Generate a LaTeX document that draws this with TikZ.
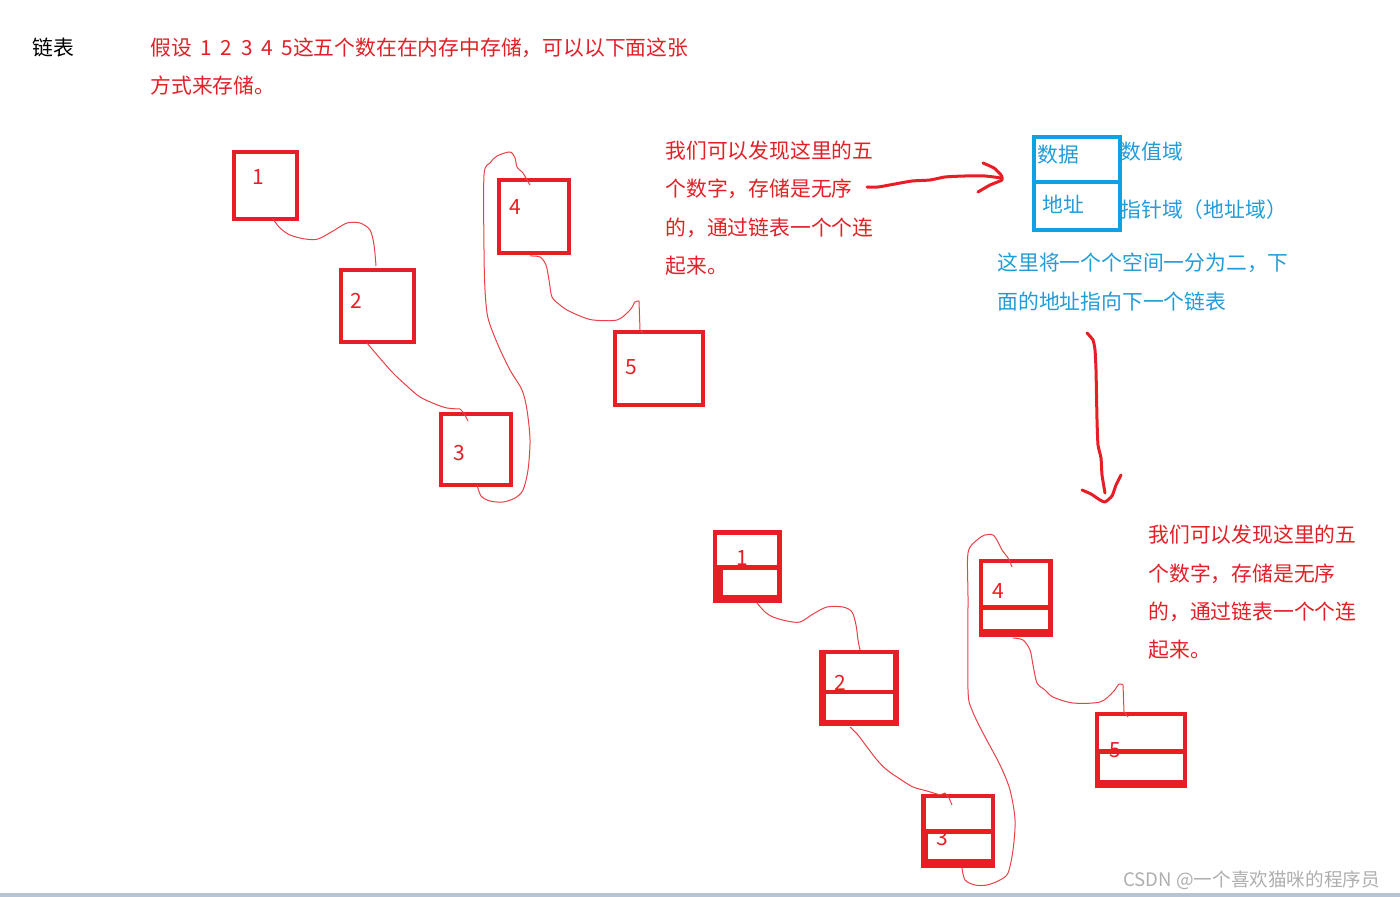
\documentclass[tikz,border=0pt]{standalone}
\usepackage{fontspec}
\setmainfont{Noto Sans CJK SC}
\usetikzlibrary{calc}
\definecolor{ired}{RGB}{232,30,38}
\definecolor{tred}{RGB}{226,32,40}
\definecolor{bbox}{RGB}{16,160,228}
\definecolor{btxt}{RGB}{34,156,216}
\definecolor{wmark}{RGB}{175,175,175}
\definecolor{barc}{RGB}{182,196,214}
\tikzset{
  txt/.style={anchor=base west, inner sep=0pt, font=\fontsize{10.4}{12}\selectfont},
  redtxt/.style={txt, text=tred},
  bluetxt/.style={txt, text=btxt},
  digit/.style={inner sep=0pt, text=ired, font=\fontsize{10.5}{12}\selectfont},
  tbox/.style={draw=ired, line width=2pt, inner sep=0pt},
  outerbox/.style={fill=ired, inner sep=0pt, anchor=north west},
  cell/.style={fill=white, inner sep=0pt, anchor=north west},
  wire/.style={draw=ired!85!white, line width=0.5pt, line join=round},
  thickarrow/.style={draw=ired, line width=1.5pt, line cap=round, line join=round},
}
\begin{document}
\begin{tikzpicture}[x=0.5pt, y=-0.5pt]
\useasboundingbox (0,0) rectangle (1400,897);
\fill[white] (0,0) rectangle (1400,897);
\fill[barc] (0,893) rectangle (1400,897);

% ---- texts ----
\node[txt] (title) at (32,56) {链表};
\node[redtxt] (intro1) at (150,56) {假设\hspace{2pt} 1\hspace{2pt} 2\hspace{2pt} 3\hspace{2pt} 4\hspace{2pt} 5这五个数在在内存中存储，可以以下面这张};
\node[redtxt] (intro2) at (150,94) {方式来存储。};

\node[redtxt] (m1) at (665,159) {我们可以发现这里的五};
\node[redtxt] (m2) at (665,197) {个数字，存储是无序};
\node[redtxt] (m3) at (665,236) {的，通过链表一个个连};
\node[redtxt] (m4) at (665,274) {起来。};

\node[redtxt] (r1) at (1148,542) {我们可以发现这里的五};
\node[redtxt] (r2) at (1148,581) {个数字，存储是无序};
\node[redtxt] (r3) at (1148,619) {的，通过链表一个个连};
\node[redtxt] (r4) at (1148,657) {起来。};

% ---- blue structure ----
\node[draw=bbox, line width=2pt, minimum width=43pt, minimum height=46.5pt, inner sep=0pt, anchor=north west] (bb) at (1032,135) {};
\draw[bbox, line width=2pt] (bb.west |- 0,182) -- (bb.east |- 0,182);
\node[bluetxt] (data) at (1037,163) {数据};
\node[bluetxt] (addr) at (1042,213) {地址};
\node[bluetxt] (valf) at (1120,160) {数值域};
\node[bluetxt] (ptrf) at (1120,218) {指针域（地址域）};
\node[bluetxt] (b1) at (997,271) {这里将一个个空间一分为二，下};
\node[bluetxt] (b2) at (997,310) {面的地址指向下一个链表};

% ---- top boxes ----
\node[tbox, minimum width=31.5pt, minimum height=33.5pt, anchor=north west] (t1) at (232,150) {};
\node[tbox, minimum width=36.5pt, minimum height=36pt, anchor=north west] (t2) at (339,268) {};
\node[tbox, minimum width=35pt, minimum height=35.5pt, anchor=north west] (t3) at (439,412) {};
\node[tbox, minimum width=35pt, minimum height=36.5pt, anchor=north west] (t4) at (497,178) {};
\node[tbox, minimum width=44pt, minimum height=36.5pt, anchor=north west] (t5) at (613,330) {};
\node[digit] (d1) at (258,177) {1};
\node[digit] (d2) at (356,301) {2};
\node[digit] (d3) at (459,453) {3};
\node[digit] (d4) at (515,207) {4};
\node[digit] (d5) at (631,367) {5};

% top wires
\draw[wire] plot[smooth, tension=0.5] coordinates {(273,219) (280,228) (290,235) (305,239) (318,239) (333,231) (347,223) (360,223) (370,230) (374,245) (376,266)};
\draw[wire] plot[smooth, tension=0.5] coordinates {(367,343) (378,356) (393,373) (408,387) (420,397) (435,404) (447,408) (460,409)};
\draw[wire] (460,409) -- (464,413) -- (468,421);
\draw[wire] plot[smooth, tension=0.5] coordinates {(477,485) (481,496) (490,501) (503,502) (515,498) (523,490) (528,470) (530,440) (527,410) (522,390) (510,370) (498,345) (488,318) (485,290) (484,250) (484,175) (490,163) (497,156) (510,152) (515,158) (517,167) (523,173) (527,180) (530,185)};
\draw[wire] plot[smooth, tension=0.5] coordinates {(530,256) (540,257) (546,265) (549,280) (552,297) (560,305) (567,310) (580,316) (593,320) (617,320) (630,310) (635,302) (639,301)};
\draw[wire] (639,301) -- (640,330) -- (643,333);

% ---- arrows ----
\draw[thickarrow] plot[smooth, tension=0.4] coordinates {(867,187) (878,187) (895,184) (912,181) (930,180) (945,177) (965,176) (985,176) (1001,178)};
\draw[thickarrow] plot[smooth, tension=0.3] coordinates {(983,163) (994,168) (1001,175) (1002,180) (990,185) (978,192)};
\draw[thickarrow] plot[smooth, tension=0.3] coordinates {(1087,333) (1093,340) (1095,350) (1096,370) (1097,420) (1098,445) (1101,458) (1102,475) (1105,493)};
\draw[thickarrow] plot[smooth, tension=0.3] coordinates {(1082,490) (1091,494) (1100,500) (1105,502) (1112,496) (1116,485) (1121,475)};

% ---- bottom boxes ----
% box 1
\node[outerbox, minimum width=34.5pt, minimum height=36.5pt] (n1) at (713,530) {};
\node[cell, minimum width=30pt, minimum height=15pt] (n1u) at (717,535) {};
\node[cell, minimum width=27pt, minimum height=12.5pt] (n1l) at (723,570) {};
% box 2
\node[outerbox, minimum width=40pt, minimum height=38pt] (n2) at (819,650) {};
\node[cell, minimum width=33.5pt, minimum height=18pt] (n2u) at (826,654) {};
\node[cell, minimum width=33.5pt, minimum height=13pt] (n2l) at (826,694) {};
% box 3
\node[outerbox, minimum width=37pt, minimum height=37pt] (n3) at (921,794) {};
\node[cell, minimum width=32.5pt, minimum height=15.5pt] (n3u) at (926,798) {};
\node[cell, minimum width=31.5pt, minimum height=12.5pt] (n3l) at (928,834) {};
% box 4
\node[outerbox, minimum width=37pt, minimum height=39pt] (n4) at (979,559) {};
\node[cell, minimum width=32.5pt, minimum height=21pt] (n4u) at (983,563) {};
\node[cell, minimum width=32.5pt, minimum height=9.5pt] (n4l) at (983,610) {};
% box 5
\node[outerbox, minimum width=46pt, minimum height=38pt] (n5) at (1095,712) {};
\node[cell, minimum width=42pt, minimum height=16.5pt] (n5u) at (1099,716) {};
\node[cell, minimum width=41.5pt, minimum height=13pt] (n5l) at (1100,754) {};

\node[digit] (e1) at (742,558) {1};
\node[digit] (e2) at (840,683) {2};
\node[digit] (e3) at (942,838) {3};
\node[digit] (e4) at (998,591) {4};
\node[digit] (e5) at (1115,750) {5};

% bottom wires
\draw[wire] plot[smooth, tension=0.5] coordinates {(757,603) (765,612) (773,617) (787,621) (800,622) (813,614) (827,607) (843,607) (852,612) (856,625) (858,640) (860,650)};
\draw[wire] plot[smooth, tension=0.5] coordinates {(850,727) (858,735) (867,747) (877,760) (887,770) (900,779) (913,787) (927,791) (940,795)};
\draw[wire] (940,795) -- (945,793) -- (949,798) -- (952,805);
\draw[wire] plot[smooth, tension=0.5] coordinates {(962,868) (965,880) (975,885) (987,885) (1000,880) (1008,873) (1013,850) (1015,820) (1010,790) (1000,765) (983,733) (972,710) (968,690) (968,600) (968,553) (977,540) (985,535) (993,535) (998,542) (1002,550) (1008,558) (1012,567)};
\draw[wire] plot[smooth, tension=0.5] coordinates {(1013,638) (1023,640) (1030,650) (1033,665) (1037,683) (1045,690) (1053,697) (1073,703) (1100,702) (1113,692) (1119,684) (1123,685)};
\draw[wire] (1123,685) -- (1124,712) -- (1128,717);

% watermark
\node[txt, text=wmark, font=\fontsize{9.3}{11}\selectfont] (wm) at (1123,886) {CSDN @一个喜欢猫咪的程序员};
\end{tikzpicture}
\end{document}
